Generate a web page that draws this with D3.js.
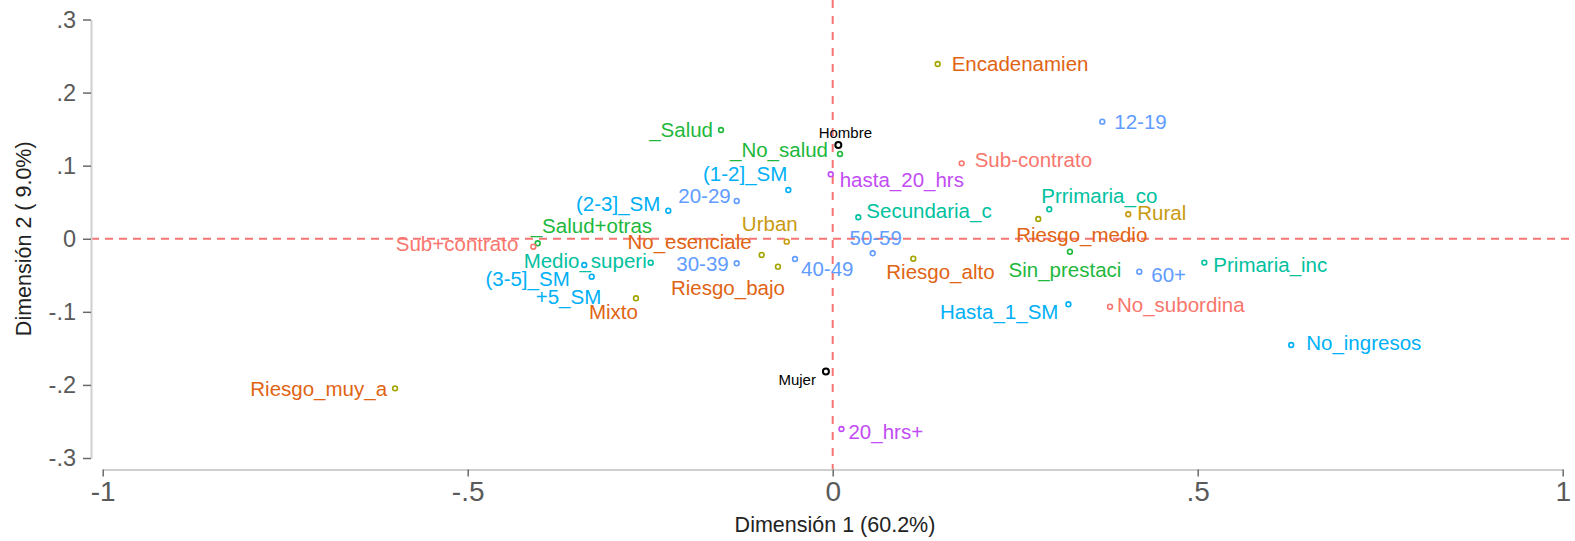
<!DOCTYPE html>
<html>
<head>
<meta charset="utf-8">
<script src="https://cdn.jsdelivr.net/npm/d3@7"></script>
<style>
  html, body { margin: 0; padding: 0; background: #ffffff; }
  svg { display: block; }
</style>
</head>
<body>
<svg id="chart" width="1575" height="541"></svg>
<script>
// ---------------- DATA ----------------
const categories = [
  "Encadenamien", "12-19", "Hombre", "_No_salud", "_Salud", "Sub-contrato",
  "hasta_20_hrs", "(1-2]_SM", "20-29", "(2-3]_SM", "_Salud+otras", "Sub+contrato",
  "Medio_superi", "+5_SM", "(3-5]_SM", "Mixto", "No_esenciale", "Riesgo_bajo",
  "Urban", "30-39", "40-49", "50-59", "Secundaria_c", "Riesgo_alto",
  "Prrimaria_co", "Riesgo_medio", "Rural", "Sin_prestaci", "60+", "Primaria_inc",
  "Hasta_1_SM", "No_subordina", "No_ingresos", "Mujer", "20_hrs+", "Riesgo_muy_a"
];
const dim1 = [
  0.1438, 0.3693, 0.0077, 0.0100, -0.1530, 0.1767,
  -0.0027, -0.0608, -0.1315, -0.2252, -0.4041, -0.4101,
  -0.2493, -0.3403, -0.3301, -0.2695, -0.0973, -0.0750,
  -0.0630, -0.1315, -0.0516, 0.0548, 0.0351, 0.1104,
  0.2967, 0.2816, 0.4049, 0.3250, 0.4200, 0.5091,
  0.3229, 0.3799, 0.6281, -0.0093, 0.0120, -0.5995
];
const dim2 = [
  0.2391, 0.1602, 0.1283, 0.1160, 0.1488, 0.1032,
  0.0882, 0.0667, 0.0517, 0.0384, -0.0062, -0.0109,
  -0.0328, -0.0359, -0.0519, -0.0815, -0.0222, -0.0382,
  -0.0040, -0.0336, -0.0277, -0.0199, 0.0294, -0.0273,
  0.0403, 0.0270, 0.0335, -0.0177, -0.0451, -0.0326,
  -0.0897, -0.0930, -0.1454, -0.1817, -0.2603, -0.2047
];
const groups = [
  "actividad", "edad", "sexo", "salud", "salud", "contrato",
  "horas", "ingreso", "edad", "ingreso", "salud", "contrato",
  "educ", "ingreso", "ingreso", "actividad", "actividad", "actividad",
  "zona", "edad", "edad", "edad", "educ", "actividad",
  "educ", "actividad", "zona", "salud", "edad", "educ",
  "ingreso", "contrato", "ingreso", "sexo", "horas", "actividad"
];
const xTicks = [-1, -0.5, 0, 0.5, 1];
const xTickLabels = ["-1", "-.5", "0", ".5", "1"];
const yTicks = [0.3, 0.2, 0.1, 0, -0.1, -0.2, -0.3];
const yTickLabels = [".3", ".2", ".1", "0", "-.1", "-.2", "-.3"];
const xTitle = "Dimensión 1 (60.2%)";
const yTitle = "Dimensión 2 ( 9.0%)";

// label placement relative to each marker: [dx, dy, anchor]
const labelPlacement = [
  [14, 0, "start"], [12, 0, "start"], [7, -12, "middle"], [-12, -4, "end"], [-8, 0, "end"], [13, -4, "start"],
  [9, 5, "start"], [-1, -16, "end"], [-6, -5, "end"], [-8, -7, "end"], [-7, -18, "start"], [-15, -3, "end"],
  [-4, -2, "end"], [17, 32, "end"], [-22, 2, "end"], [2, 13.5, "end"], [-10, -13, "end"], [7, 21, "end"],
  [11, -18, "end"], [-8, 0, "end"], [6, 10, "start"], [3, -16, "middle"], [8, -7, "start"], [-27, 13, "start"],
  [-8, -14, "start"], [-22, 16, "start"], [9, -2, "start"], [-5, 18, "middle"], [12, 3, "start"], [9, 2, "start"],
  [-10, 7, "end"], [7, -2, "start"], [15, -2, "start"], [-10, 8, "end"], [7, 3, "start"], [-8, 0, "end"]
];

// ---------------- STYLE ----------------
const labelColor = {
  actividad: "#DF6414", edad: "#619CFF", sexo: "#000000", salud: "#1DB83C",
  contrato: "#F8766D", horas: "#C24CF4", ingreso: "#00B0F6", educ: "#00C1A0", zona: "#C99A10"
};
const markerColor = {
  actividad: "#A3A500", edad: "#619CFF", sexo: "#000000", salud: "#1DB83C",
  contrato: "#F8766D", horas: "#C24CF4", ingreso: "#00B0F6", educ: "#00C1A0", zona: "#C99A10"
};
const FONT = "'Liberation Sans', Arial, Helvetica, sans-serif";

const svg = d3.select("#chart");
const x = d3.scaleLinear().domain([-1, 1]).range([102.7, 1562.7]);
const y = d3.scaleLinear().domain([-0.3, 0.3]).range([458, 19.5]);
const axisX = 91, axisY = 469.5;

// reference lines
svg.append("line")
  .attr("x1", axisX).attr("x2", 1575)
  .attr("y1", y(0)).attr("y2", y(0))
  .attr("stroke", "#F87474").attr("stroke-width", 2)
  .attr("stroke-dasharray", "8,6");
svg.append("line")
  .attr("x1", x(0)).attr("x2", x(0))
  .attr("y1", 0).attr("y2", axisY)
  .attr("stroke", "#F87474").attr("stroke-width", 2)
  .attr("stroke-dasharray", "8,8");

// y axis
const gy = svg.append("g").attr("transform", `translate(${axisX},0)`)
  .call(d3.axisLeft(y).tickValues(yTicks)
    .tickFormat((d, i) => yTickLabels[i]).tickSize(8).tickSizeOuter(0).tickPadding(7));
gy.select(".domain").attr("stroke", "#cfcfcf").attr("stroke-width", 2);
gy.selectAll(".tick line").attr("stroke", "#6a6a6a").attr("stroke-width", 1.5);
gy.selectAll(".tick text").attr("fill", "#5a5a5a").attr("font-size", 23.5)
  .attr("font-family", FONT);

// x axis
const gx = svg.append("g").attr("transform", `translate(0,${axisY})`)
  .call(d3.axisBottom(x).tickValues(xTicks)
    .tickFormat((d, i) => xTickLabels[i]).tickSize(7).tickSizeOuter(0).tickPadding(5));
gx.select(".domain").attr("stroke", "#cfcfcf").attr("stroke-width", 2);
gx.selectAll(".tick line").attr("stroke", "#6a6a6a").attr("stroke-width", 1.5);
gx.selectAll(".tick text").attr("fill", "#5a5a5a").attr("font-size", 28)
  .attr("font-family", FONT);

// axis titles
svg.append("text")
  .attr("x", 835).attr("y", 524).attr("dy", "0.36em")
  .attr("text-anchor", "middle").attr("font-family", FONT).attr("font-size", 21.5)
  .attr("fill", "#222").text(xTitle);
svg.append("text")
  .attr("transform", `translate(23,${y(0)}) rotate(-90)`).attr("dy", "0.36em")
  .attr("text-anchor", "middle").attr("font-family", FONT).attr("font-size", 21.5)
  .attr("fill", "#222").text(yTitle);

// points
const pts = categories.map((c, i) => ({
  name: c, d1: dim1[i], d2: dim2[i], g: groups[i], lp: labelPlacement[i]
}));

svg.append("g").selectAll("circle").data(pts).join("circle")
  .attr("cx", d => x(d.d1)).attr("cy", d => y(d.d2))
  .attr("r", d => d.g === "sexo" ? 3 : 2.4)
  .attr("fill", "none")
  .attr("stroke", d => markerColor[d.g])
  .attr("stroke-width", d => d.g === "sexo" ? 2 : 1.6);

svg.append("g").selectAll("text").data(pts).join("text")
  .attr("x", d => x(d.d1) + d.lp[0])
  .attr("y", d => y(d.d2) + d.lp[1])
  .attr("dy", "0.36em")
  .attr("text-anchor", d => d.lp[2])
  .attr("font-family", FONT)
  .attr("font-size", d => d.g === "sexo" ? 15 : 20.5)
  .attr("fill", d => labelColor[d.g])
  .text(d => d.name);
</script>
</body>
</html>
